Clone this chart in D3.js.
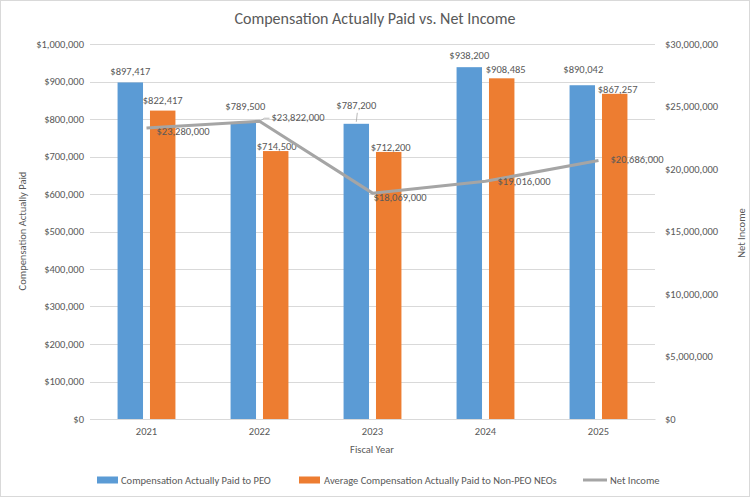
<!DOCTYPE html>
<html><head><meta charset="utf-8">
<script src="https://cdn.jsdelivr.net/npm/d3@7"></script>
<style>
html,body{margin:0;padding:0;background:#fff;}
svg{display:block;}
text{font-family:Calibri,Carlito,"Liberation Sans",Arial,sans-serif;fill:#595959;}
</style></head>
<body>
<script>
const categories = ["2021","2022","2023","2024","2025"];
const peoValues = [897417, 789500, 787200, 938200, 890042];
const neoValues = [822417, 714500, 712200, 908485, 867257];
const netIncome = [23280000, 23822000, 18069000, 19016000, 20686000];
const leftTicks = [0,100000,200000,300000,400000,500000,600000,700000,800000,900000,1000000];
const rightTicks = [0,5000000,10000000,15000000,20000000,25000000,30000000];
const seriesNames = ["Compensation Actually Paid to PEO","Average Compensation Actually Paid to Non-PEO NEOs","Net Income"];

const W = 750, H = 497;
const m = {left:90, right:95, top:44, bottom:78};
const colors = {peo:"#5B9BD5", neo:"#ED7D31", net:"#A5A5A5"};

const svg = d3.select("body").append("svg").attr("width",W).attr("height",H);
svg.append("rect").attr("x",0.5).attr("y",0.5).attr("width",W-1).attr("height",H-1)
  .attr("fill","#fff").attr("stroke","#d9d9d9");

const x0 = d3.scaleBand().domain(categories).range([m.left, W-m.right]).paddingInner(0).paddingOuter(0);
const x1 = d3.scaleBand().domain(["peo","neo"]).range([0, x0.bandwidth()]).paddingInner(0.215).paddingOuter(0.85);
const yL = d3.scaleLinear().domain([0,1000000]).range([H-m.bottom, m.top]);
const yR = d3.scaleLinear().domain([0,30000000]).range([H-m.bottom, m.top]);

const money = d3.format("$,");

// gridlines
svg.append("g").selectAll("line").data(leftTicks).join("line")
  .attr("x1",m.left).attr("x2",W-m.right)
  .attr("y1",d=>Math.round(yL(d))+0.5).attr("y2",d=>Math.round(yL(d))+0.5)
  .attr("stroke","#d9d9d9").attr("stroke-width",1);

// left axis
const gL = svg.append("g").attr("transform",`translate(${m.left-6},0)`)
  .call(d3.axisLeft(yL).tickValues(leftTicks).tickFormat(money).tickSize(0).tickPadding(0));
gL.select(".domain").remove();
gL.selectAll("text").attr("font-size",10.5).attr("fill","#595959").attr("font-family",null);

// right axis
const gR = svg.append("g").attr("transform",`translate(${W-m.right+10},0)`)
  .call(d3.axisRight(yR).tickValues(rightTicks).tickFormat(money).tickSize(0).tickPadding(0));
gR.select(".domain").remove();
gR.selectAll("text").attr("font-size",10.5).attr("fill","#595959").attr("font-family",null);

// bottom axis
const gB = svg.append("g").attr("transform",`translate(0,${H-m.bottom})`)
  .call(d3.axisBottom(x0).tickSize(0).tickPadding(9));
gB.select(".domain").attr("stroke","#d9d9d9");
gB.selectAll("text").attr("font-size",10.5).attr("fill","#595959").attr("font-family",null);

// bars
const rows = categories.map((c,i)=>({cat:c, peo:peoValues[i], neo:neoValues[i], net:netIncome[i]}));
const grp = svg.append("g").selectAll("g").data(rows).join("g")
  .attr("transform",d=>`translate(${x0(d.cat)},0)`);
["peo","neo"].forEach(k=>{
  grp.append("rect").attr("x",x1(k)).attr("width",x1.bandwidth())
    .attr("y",d=>yL(d[k])).attr("height",d=>yL(0)-yL(d[k])).attr("fill",colors[k]);
});

// bar label nudges (horizontal shift, vertical lift above bar top)
const peoLift = [[0,7],[2,13],[0,15],[0,8],[1,12]];
const neoLift = [[0,7],[1,1],[2,1],[4,5],[3,1]];
grp.append("text").attr("text-anchor","middle").attr("font-size",10.5).attr("fill","#404040")
  .attr("x",(d,i)=>x1("peo")+x1.bandwidth()/2+peoLift[i][0])
  .attr("y",(d,i)=>yL(d.peo)-peoLift[i][1]).text(d=>money(d.peo));
grp.append("text").attr("text-anchor","middle").attr("font-size",10.5).attr("fill","#404040")
  .attr("x",(d,i)=>x1("neo")+x1.bandwidth()/2+neoLift[i][0])
  .attr("y",(d,i)=>yL(d.neo)-neoLift[i][1]).text(d=>money(d.neo));

// leader line for 2023 PEO label
const i23 = 2;
svg.append("line").attr("x1",x0(categories[i23])+x1("peo")+x1.bandwidth()/2)
  .attr("x2",x0(categories[i23])+x1("peo")+x1.bandwidth()/2+1)
  .attr("y1",yL(peoValues[i23])-2).attr("y2",yL(peoValues[i23])-11)
  .attr("stroke","#a6a6a6").attr("stroke-width",0.8);

// net income line
const cx = c=>x0(c)+x0.bandwidth()/2;
const line = d3.line().x(d=>cx(d.cat)).y(d=>yR(d.net));
svg.append("path").datum(rows).attr("d",line).attr("fill","none")
  .attr("stroke",colors.net).attr("stroke-width",3).attr("stroke-linejoin","round");

// leader line for 2022 net label
svg.append("path").attr("d",`M${cx("2022")},${yR(netIncome[1])} l5,-3 h5`)
  .attr("fill","none").attr("stroke","#a6a6a6").attr("stroke-width",0.8);

const netOff = [[10,7],[12,0],[1,8],[12,4],[12,3]];
svg.append("g").selectAll("text").data(rows).join("text")
  .attr("font-size",10.5).attr("fill","#404040")
  .attr("x",(d,i)=>cx(d.cat)+netOff[i][0]).attr("y",(d,i)=>yR(d.net)+netOff[i][1])
  .text(d=>money(d.net));

// titles
svg.append("text").attr("x",375).attr("y",24).attr("text-anchor","middle")
  .attr("font-size",16).attr("fill","#404040").text("Compensation Actually Paid vs. Net Income");
svg.append("text").attr("x",372).attr("y",453).attr("text-anchor","middle")
  .attr("font-size",10.5).text("Fiscal Year");
svg.append("text").attr("transform","translate(26,231) rotate(-90)").attr("text-anchor","middle")
  .attr("font-size",10.5).text("Compensation Actually Paid");
svg.append("text").attr("transform","translate(745,233) rotate(-90)").attr("text-anchor","middle")
  .attr("font-size",10.5).text("Net Income");

// legend
const lg = svg.append("g");
const ly = 480;
lg.append("rect").attr("x",97).attr("y",ly-3.5).attr("width",21).attr("height",7).attr("fill",colors.peo);
lg.append("text").attr("x",121).attr("y",ly+3.5).attr("font-size",10.5).text(seriesNames[0]);
lg.append("rect").attr("x",299).attr("y",ly-3.5).attr("width",21).attr("height",7).attr("fill",colors.neo);
lg.append("text").attr("x",324).attr("y",ly+3.5).attr("font-size",10.5).text(seriesNames[1]);
lg.append("line").attr("x1",583).attr("x2",607).attr("y1",ly).attr("y2",ly).attr("stroke",colors.net).attr("stroke-width",3);
lg.append("text").attr("x",610).attr("y",ly+3.5).attr("font-size",10.5).text(seriesNames[2]);
</script>
</body></html>
